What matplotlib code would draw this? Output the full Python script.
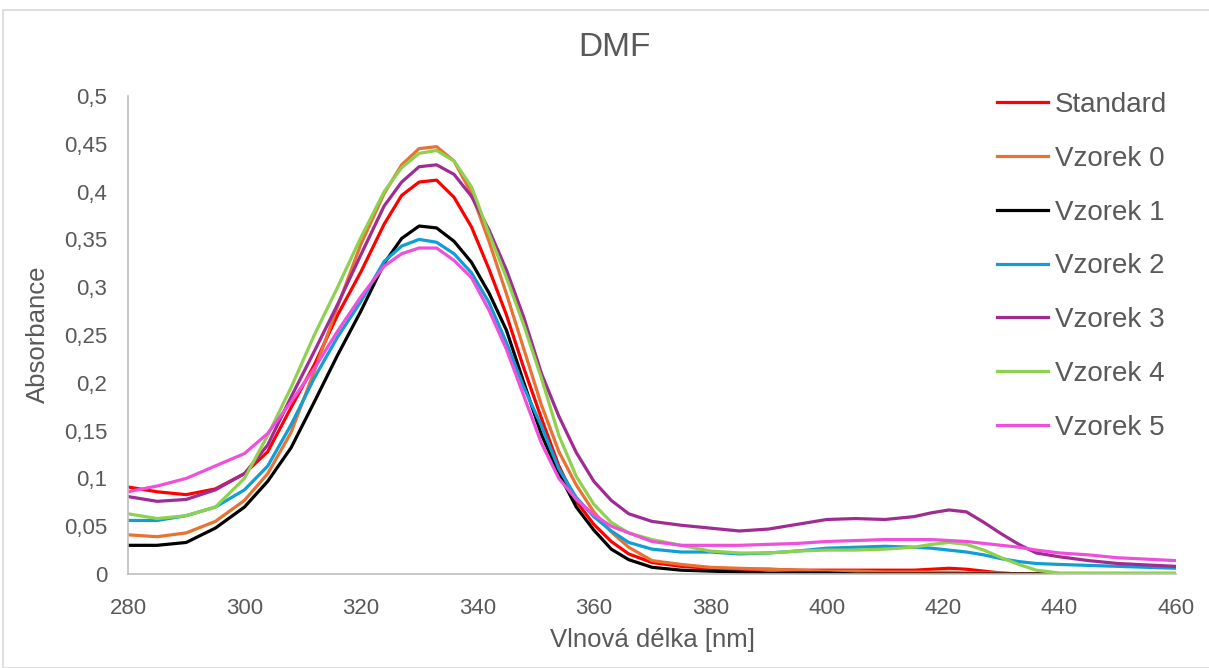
import matplotlib
matplotlib.use("Agg")
import matplotlib.pyplot as plt
from matplotlib.patches import Rectangle
from matplotlib.ticker import FuncFormatter, MultipleLocator

plt.rcParams['font.family'] = ['Liberation Sans', 'DejaVu Sans']

wavelength = [280, 285, 290, 295, 300, 304, 308, 312, 316, 320, 324, 327, 330, 333, 336,
              339, 342, 345, 348, 351, 354, 357, 360, 363, 366, 370, 375, 380, 385, 390,
              395, 400, 405, 410, 415, 418, 421, 424, 427, 430, 433, 436, 440, 445, 450,
              455, 460]

standard = [0.091, 0.086, 0.083, 0.089, 0.105, 0.128, 0.174, 0.219, 0.271, 0.316, 0.366, 0.396,
            0.410, 0.412, 0.394, 0.363, 0.319, 0.271, 0.215, 0.163, 0.113, 0.076, 0.052, 0.034,
            0.021, 0.012, 0.008, 0.006, 0.005, 0.005, 0.004, 0.004, 0.004, 0.004, 0.004, 0.005,
            0.006, 0.005, 0.003, 0.001, 0.0, 0.0, 0.0, 0.0, 0.0, 0.0, 0.0]
vzorek0 = [0.041, 0.039, 0.043, 0.055, 0.077, 0.105, 0.148, 0.212, 0.280, 0.345, 0.398, 0.428,
           0.445, 0.447, 0.432, 0.398, 0.348, 0.293, 0.235, 0.177, 0.128, 0.093, 0.065, 0.044,
           0.028, 0.014, 0.010, 0.007, 0.006, 0.005, 0.004, 0.003, 0.003, 0.002, 0.002, 0.002,
           0.002, 0.001, 0.001, 0.001, 0.0, 0.0, 0.0, 0.0, 0.0, 0.0, 0.0]
vzorek1 = [0.030, 0.030, 0.033, 0.048, 0.070, 0.097, 0.132, 0.180, 0.229, 0.275, 0.325, 0.351,
           0.364, 0.362, 0.348, 0.326, 0.294, 0.255, 0.200, 0.146, 0.105, 0.070, 0.046, 0.026,
           0.015, 0.007, 0.004, 0.003, 0.002, 0.001, 0.001, 0.001, 0.0, 0.0, 0.0, 0.0,
           0.0, 0.0, 0.0, 0.0, 0.0, 0.0, 0.0, 0.0, 0.0, 0.0, 0.0]
vzorek2 = [0.056, 0.056, 0.061, 0.070, 0.088, 0.113, 0.156, 0.205, 0.248, 0.285, 0.327, 0.343,
           0.350, 0.347, 0.335, 0.315, 0.284, 0.242, 0.195, 0.155, 0.110, 0.080, 0.060, 0.045,
           0.033, 0.026, 0.023, 0.023, 0.021, 0.022, 0.024, 0.027, 0.028, 0.029, 0.028, 0.027,
           0.025, 0.023, 0.020, 0.016, 0.013, 0.011, 0.010, 0.009, 0.008, 0.007, 0.006]
vzorek3 = [0.081, 0.076, 0.078, 0.088, 0.105, 0.135, 0.185, 0.233, 0.282, 0.334, 0.385, 0.410,
           0.426, 0.428, 0.418, 0.395, 0.360, 0.318, 0.268, 0.210, 0.165, 0.127, 0.097, 0.077,
           0.063, 0.055, 0.051, 0.048, 0.045, 0.047, 0.052, 0.057, 0.058, 0.057, 0.060, 0.064,
           0.067, 0.065, 0.054, 0.042, 0.031, 0.022, 0.018, 0.014, 0.011, 0.0095, 0.008]
vzorek4 = [0.063, 0.058, 0.061, 0.070, 0.100, 0.145, 0.195, 0.250, 0.300, 0.352, 0.400, 0.425,
           0.440, 0.443, 0.432, 0.405, 0.356, 0.310, 0.260, 0.205, 0.145, 0.102, 0.073, 0.054,
           0.043, 0.036, 0.030, 0.024, 0.022, 0.022, 0.024, 0.025, 0.025, 0.026, 0.028, 0.031,
           0.033, 0.031, 0.025, 0.017, 0.010, 0.004, 0.001, 0.001, 0.001, 0.001, 0.001]
vzorek5 = [0.086, 0.092, 0.100, 0.113, 0.126, 0.147, 0.180, 0.215, 0.254, 0.290, 0.322, 0.335,
           0.341, 0.341, 0.328, 0.310, 0.276, 0.235, 0.186, 0.137, 0.100, 0.078, 0.062, 0.050,
           0.043, 0.034, 0.030, 0.030, 0.030, 0.031, 0.032, 0.034, 0.035, 0.036, 0.036, 0.036,
           0.035, 0.034, 0.032, 0.030, 0.028, 0.025, 0.022, 0.020, 0.017, 0.0155, 0.014]

series_names = ["Standard", "Vzorek 0", "Vzorek 1", "Vzorek 2", "Vzorek 3", "Vzorek 4", "Vzorek 5"]
series_values = [standard, vzorek0, vzorek1, vzorek2, vzorek3, vzorek4, vzorek5]
series_colors = ["#FF0000", "#E97132", "#000000", "#0F9ED5", "#A02B93", "#8ED14F", "#F04FDC"]

x_ticks = [280, 300, 320, 340, 360, 380, 400, 420, 440, 460]

W, H = 1209, 668
fig = plt.figure(figsize=(W / 100, H / 100), dpi=100)
fig.patch.set_facecolor("white")

# chart area border
fig.add_artist(Rectangle((3 / W, 0), 1.0, 1 - 10 / H, transform=fig.transFigure,
                         fill=False, edgecolor="#d9d9d9", linewidth=1.2))

ax = fig.add_axes([128 / W, 1 - 574 / H, (1176 - 128) / W, (574 - 96) / H])

for name, vals, col in zip(series_names, series_values, series_colors):
    ax.plot(wavelength, vals, color=col, linewidth=2.3, label=name, solid_joinstyle="round")

ax.set_xlim(280, 460)
ax.set_ylim(0, 0.5)
ax.set_xticks(x_ticks)
ax.yaxis.set_major_locator(MultipleLocator(0.05))

def comma_fmt(v, pos):
    s = f"{v:.2f}".rstrip("0").rstrip(".")
    return s.replace(".", ",")

ax.yaxis.set_major_formatter(FuncFormatter(comma_fmt))

for side in ["top", "right"]:
    ax.spines[side].set_visible(False)
for side in ["left", "bottom"]:
    ax.spines[side].set_color("#bfbfbf")
    ax.spines[side].set_linewidth(1.2)

ax.tick_params(axis="both", colors="#bfbfbf", labelcolor="#595959", labelsize=16,
               length=0, width=1.0, direction="out")
ax.tick_params(axis="x", pad=17)
ax.tick_params(axis="y", pad=15)

fig.text(653 / W, 1 - 640 / H, "Vlnová délka [nm]", ha="center", va="center",
         fontsize=18.5, color="#595959")
fig.text(38 / W, 1 - 334 / H, "Absorbance", ha="center", va="center", rotation=90,
         fontsize=18.5, color="#595959")
fig.text(614 / W, 1 - 47 / H, "DMF", ha="center", va="center", fontsize=24, color="#595959")

leg = ax.legend(loc="upper left", bbox_to_anchor=(997 / W, 1 - 92 / H),
                bbox_transform=fig.transFigure, frameon=False, fontsize=20,
                labelspacing=1.0, handlelength=1.83, handletextpad=0.25, borderpad=0,
                borderaxespad=0, labelcolor="#595959")
for line in leg.get_lines():
    line.set_linewidth(2.3)

fig.savefig("out.png", dpi=100, facecolor="white")
